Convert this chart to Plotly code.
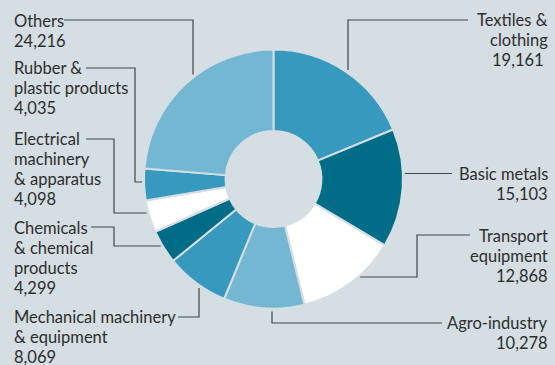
import math
import plotly.graph_objects as go

# ---- data ----
categories = ["Textiles & clothing", "Basic metals", "Transport equipment", "Agro-industry",
              "Mechanical machinery & equipment", "Chemicals & chemical products",
              "Electrical machinery & apparatus", "Rubber & plastic products", "Others"]
values = [19161, 15103, 12868, 10278, 8069, 4299, 4098, 4035, 24216]
label_lines = [["Textiles &", "clothing"], ["Basic metals"], ["Transport", "equipment"],
               ["Agro-industry"], ["Mechanical machinery", "& equipment"],
               ["Chemicals", "& chemical", "products"], ["Electrical", "machinery", "& apparatus"],
               ["Rubber &", "plastic products"], ["Others"]]

# ---- styling ----
W, H = 555, 365
BG = "#d4dee3"
LIGHT, MID, DARK, WHITE = "#74b7d3", "#3799be", "#006d88", "#ffffff"
colors = [MID, DARK, WHITE, LIGHT, MID, DARK, WHITE, MID, LIGHT]
FONT = "Lato"
FS = 16.5
TXT = "#2e2e2e"
LINE = "#454545"

CX, CY, R = 273.5, 179.0, 129.5   # pixel geometry of pie
HOLE = 0.37

def px(x):
    return x / W

def py(y):
    return 1 - y / H

fig = go.Figure(go.Pie(
    labels=categories, values=values, sort=False, direction="clockwise", rotation=0,
    hole=HOLE, textinfo="none", hoverinfo="label+value",
    marker=dict(colors=colors, line=dict(color=BG, width=2)),
    domain=dict(x=[px(CX - R), px(CX + R)], y=[py(CY + R), py(CY - R)]),
    showlegend=False,
))

# label layout: side, anchor x, first line y, leader polyline (label side -> pie), final direction
layout_info = [
    ("right", 550, 20, [(468, 20), (348, 20)], "v"),
    ("right", 550, 174, [(452, 173.5)], "h"),
    ("right", 550, 236, [(470, 235), (417, 235), (417, 277)], "h"),
    ("right", 550, 323, [(442, 323), (272, 323)], "v"),
    ("left", 12, 317, [(178, 317), (199, 317)], "v"),
    ("left", 12, 227.5, [(91, 227), (114, 227), (114, 246)], "h"),
    ("left", 12, 139, [(86, 139), (114, 139), (114, 213)], "h"),
    ("left", 12, 68, [(86, 68), (135, 68), (135, 182)], "h"),
    ("left", 12, 21, [(64, 20), (193, 20)], "v"),
]
PITCH = 20
GAP_V, GAP_H = 3, 2

for lines, v, (side, ax, y0, pts, final) in zip(label_lines, values, layout_info):
    all_lines = lines + [f"{v:,}"]
    for i, t in enumerate(all_lines):
        xa = ax
        if side == "right" and t == "19,161":
            xa = ax - 4
        fig.add_annotation(
            x=px(xa), y=py(y0 + i * PITCH), xref="paper", yref="paper",
            xanchor="right" if side == "right" else "left", yanchor="middle",
            text=t, showarrow=False, font=dict(family=FONT, size=FS, color=TXT),
        )
    # leader line: extend last segment to the pie's outer edge
    lx, ly = pts[-1]
    if final == "v":
        d = math.sqrt(max(R ** 2 - (lx - CX) ** 2, 0))
        end = (lx, CY - d - GAP_V) if ly < CY else (lx, CY + d + GAP_V)
    else:
        d = math.sqrt(max(R ** 2 - (ly - CY) ** 2, 0))
        end = (CX - d - GAP_H, ly) if lx < CX else (CX + d + GAP_H, ly)
    path_pts = pts + [end]
    path = "M " + " L ".join(f"{px(x):.5f},{py(y):.5f}" for x, y in path_pts)
    fig.add_shape(type="path", path=path, xref="paper", yref="paper",
                  line=dict(color=LINE, width=1.2))

fig.update_layout(
    width=W, height=H, margin=dict(l=0, r=0, t=0, b=0),
    paper_bgcolor=BG, plot_bgcolor=BG,
    xaxis=dict(visible=False), yaxis=dict(visible=False),
)
fig.write_html("out.html")
